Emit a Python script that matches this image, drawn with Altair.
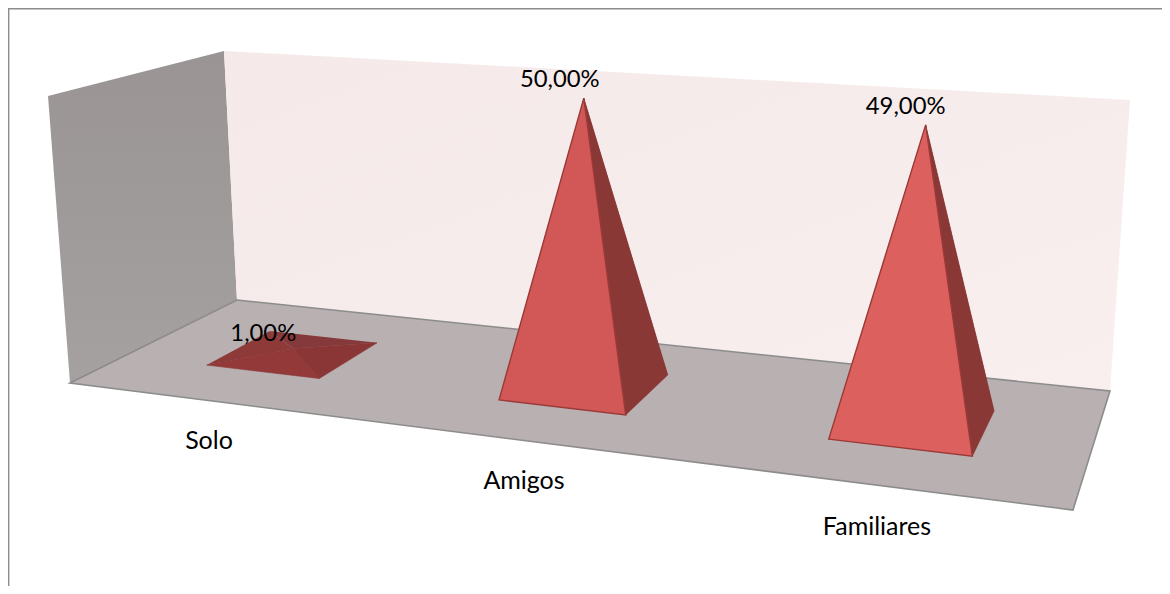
import altair as alt
import numpy as np

# ---- data ----
categories = ["Solo", "Amigos", "Familiares"]
values = [1.0, 50.0, 49.0]
value_labels = ["1,00%", "50,00%", "49,00%"]

# ---- layout: the room as seen on the page (page pixels) ----
ORIGIN = 8
ROOM_WORLD = [(0, 0, 0), (1, 0, 0), (1, 1, 0), (0, 1, 0), (0, 0, 1), (0, 1, 1), (1, 1, 1)]
ROOM_PAGE = [(70, 383), (1073, 510), (1110, 391), (237, 300), (48, 96), (224, 51), (1130, 100)]
VALUE_MAX = 50.0
CENTERS = [1 / 6, 1 / 2, 5 / 6]
HALF_W = 0.0665
HALF_D = 0.2
LABEL_SHIFTS = [(-30, -14), (-24, -18), (-20, -18)]
CAT_LABEL_POS = [(209, 441), (524, 481), (877, 527)]
FONT = "Lato"


def fit_camera():
    rows, rhs = [], []
    for (u, v, h), (x, y) in zip(ROOM_WORLD, ROOM_PAGE):
        rows.append([u, v, h, 1, 0, 0, 0, 0, -x * u, -x * v, -x * h])
        rhs.append(x)
        rows.append([0, 0, 0, 0, u, v, h, 1, -y * u, -y * v, -y * h])
        rhs.append(y)
    m = np.linalg.lstsq(np.array(rows, float), np.array(rhs, float), rcond=None)[0]
    return np.append(m, 1.0).reshape(3, 4)


CAM = fit_camera()


def project(u, v, h):
    p = CAM @ np.array([u, v, h, 1.0])
    return [float(p[0] / p[2]) - ORIGIN, float(p[1] / p[2]) - ORIGIN]


def page(pt):
    return [pt[0] - ORIGIN, pt[1] - ORIGIN]


def face(points, fill, stroke="#00000000", width=0.0):
    ring = list(points) + [points[0]]
    return {
        "type": "Feature",
        "properties": {},
        "geometry": {"type": "Polygon", "coordinates": [ring]},
        "fill": fill,
        "stroke": stroke,
        "sw": width,
    }


FRONT = ["#94393a", "#d15856", "#dc605e"]
RIGHT = ["#8b3636", "#8a3836", "#8a3836"]
LEFT = ["#8e3a39", "#8a3836", "#8a3836"]
BACK = ["#85393a", "#8a3836", "#8a3836"]
EDGE = ["#8a3535", "#9a3a38", "#9a3a38"]

features = []
labels = []
for i, (c, val) in enumerate(zip(CENTERS, values)):
    h = val / VALUE_MAX
    fl = project(c - HALF_W, 0.5 - HALF_D, 0)
    fr = project(c + HALF_W, 0.5 - HALF_D, 0)
    br = project(c + HALF_W, 0.5 + HALF_D, 0)
    bl = project(c - HALF_W, 0.5 + HALF_D, 0)
    apex = project(c, 0.5, h)
    features += [
        face([bl, br, apex], BACK[i]),
        face([bl, apex, fl], LEFT[i]),
        face([fr, br, apex], RIGHT[i], RIGHT[i], 0.6),
        face([fl, fr, apex], FRONT[i], EDGE[i], 1.4 if i else 0.6),
    ]
    labels.append({"lon": apex[0] + LABEL_SHIFTS[i][0], "lat": apex[1] + LABEL_SHIFTS[i][1], "t": value_labels[i]})

cat_rows = [{"lon": p[0] - ORIGIN, "lat": p[1] - ORIGIN, "t": t} for p, t in zip(CAT_LABEL_POS, categories)]

PROJ = dict(type="identity", scale=1, translate=[0, 0])

W = [page(p) for p in [(48, 96), (224, 51), (237, 300), (70, 383)]]
B = [page(p) for p in [(224, 51), (1130, 100), (1110, 391), (237, 300)]]
F = [page(p) for p in [(70, 383), (237, 300), (1110, 391), (1073, 510)]]


def shape(feat, **kw):
    return alt.Chart(alt.Data(values=[feat])).mark_geoshape(**kw).project(**PROJ)


left_wall = shape(
    face(W, "#000"),
    fill=alt.LinearGradient(
        gradient="linear", x1=0, y1=0, x2=0, y2=1,
        stops=[alt.GradientStop(color="#9a9494", offset=0), alt.GradientStop(color="#a5a1a1", offset=1)],
    ),
)
back_wall = shape(
    face(B, "#000"),
    fill=alt.LinearGradient(
        gradient="linear", x1=0, y1=0, x2=1, y2=1,
        stops=[alt.GradientStop(color="#f5e9e9", offset=0), alt.GradientStop(color="#f9efef", offset=1)],
    ),
)
floor = shape(face(F, "#000"), fill="#b8b0b1", stroke="#8c8c8c", strokeWidth=1.6)

frame_line = {
    "type": "Feature",
    "properties": {},
    "geometry": {"type": "LineString", "coordinates": [[0.5, 578], [0.5, 0.5], [1154, 0.5]]},
}
frame = (
    alt.Chart(alt.Data(values=[frame_line]))
    .mark_geoshape(filled=False, stroke="#8c8c8c", strokeWidth=1.8)
    .project(**PROJ)
)

pyramids = (
    alt.Chart(alt.Data(values=features))
    .mark_geoshape()
    .encode(
        fill=alt.Fill("fill:N", scale=None),
        stroke=alt.Stroke("stroke:N", scale=None),
        strokeWidth=alt.StrokeWidth("sw:Q", scale=None),
    )
    .project(**PROJ)
)


def texts(rows, size):
    return (
        alt.Chart(alt.Data(values=rows))
        .mark_text(font=FONT, fontSize=size, color="#000000", align="center", baseline="middle")
        .encode(longitude="lon:Q", latitude="lat:Q", text="t:N")
        .project(**PROJ)
    )


chart = alt.layer(
    frame, left_wall, back_wall, floor, pyramids, texts(labels, 23.8), texts(cat_rows, 25)
).properties(
    width=1154,
    height=578,
    padding=0,
    autosize=alt.AutoSizeParams(type="none"),
    background="#ffffff",
).configure_view(stroke=None)

chart.save("out.html", embed_options={"renderer": "svg", "actions": False})
